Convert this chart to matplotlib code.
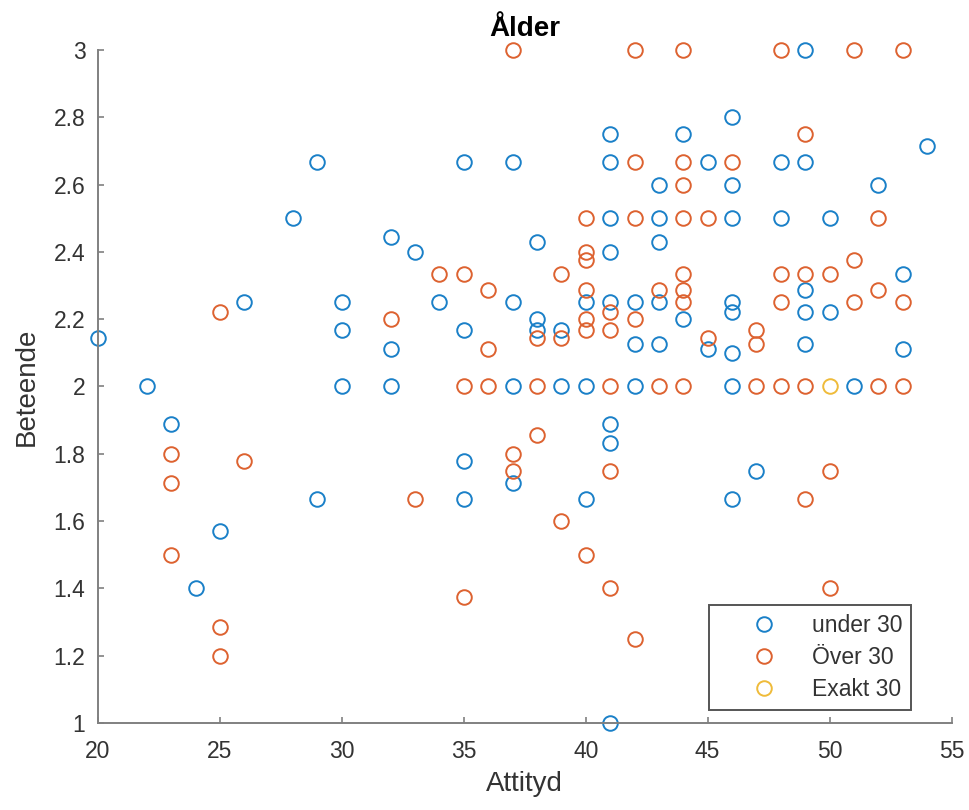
import matplotlib
matplotlib.use("Agg")
import matplotlib.pyplot as plt

plt.rcParams['font.family'] = ['Liberation Sans', 'DejaVu Sans']

# under 30
under_x = [20, 22, 23, 24, 25, 26, 28, 29, 29, 30, 30, 30, 32, 32, 32, 33, 34,
           35, 35, 35, 35, 37, 37, 37, 37, 38, 38, 38, 39, 39, 40, 40, 40,
           41, 41, 41, 41, 41, 41, 41, 41, 42, 42, 42,
           43, 43, 43, 43, 43, 44, 44, 45, 45, 46, 46, 46, 46, 46, 46, 46, 46,
           47, 48, 48, 49, 49, 49, 49, 49, 50, 50, 51, 52, 53, 53, 54]
under_y = [2.143, 2.0, 1.889, 1.4, 1.571, 2.25, 2.5, 2.667, 1.667, 2.25, 2.167, 2.0,
           2.444, 2.111, 2.0, 2.4, 2.25,
           2.667, 2.167, 1.778, 1.667, 2.667, 2.25, 2.0, 1.714, 2.429, 2.2, 2.167,
           2.167, 2.0, 2.25, 2.0, 1.667,
           2.75, 2.667, 2.5, 2.4, 2.25, 1.889, 1.833, 1.0, 2.25, 2.125, 2.0,
           2.6, 2.5, 2.429, 2.25, 2.125, 2.75, 2.2, 2.667, 2.111,
           2.8, 2.6, 2.5, 2.25, 2.222, 2.1, 2.0, 1.667,
           1.75, 2.667, 2.5, 3.0, 2.667, 2.286, 2.222, 2.125,
           2.5, 2.222, 2.0, 2.6, 2.333, 2.111, 2.714]
# over 30
over_x = [23, 23, 23, 25, 25, 25, 26, 32, 33, 34, 35, 35, 35, 36, 36, 36,
          37, 37, 37, 38, 38, 38, 39, 39, 39, 40, 40, 40, 40, 40, 40, 40,
          41, 41, 41, 41, 41, 42, 42, 42, 42, 42, 43, 43,
          44, 44, 44, 44, 44, 44, 44, 44, 45, 45, 46, 47, 47, 47,
          48, 48, 48, 48, 49, 49, 49, 49, 50, 50, 50, 51, 51, 51, 52, 52, 52,
          53, 53, 53]
over_y = [1.8, 1.714, 1.5, 2.222, 1.286, 1.2, 1.778, 2.2, 1.667, 2.333, 2.333, 2.0, 1.375,
          2.286, 2.111, 2.0,
          3.0, 1.8, 1.75, 2.143, 2.0, 1.857, 2.333, 2.143, 1.6,
          2.5, 2.4, 2.375, 2.286, 2.2, 2.167, 1.5,
          2.222, 2.167, 2.0, 1.75, 1.4, 3.0, 2.667, 2.5, 2.2, 1.25, 2.286, 2.0,
          3.0, 2.667, 2.6, 2.5, 2.333, 2.286, 2.25, 2.0, 2.5, 2.143, 2.667,
          2.167, 2.125, 2.0,
          3.0, 2.333, 2.25, 2.0, 2.75, 2.333, 2.0, 1.667, 2.333, 1.75, 1.4,
          3.0, 2.375, 2.25, 2.5, 2.286, 2.0,
          3.0, 2.25, 2.0]
# exactly 30
exact_x = [50]
exact_y = [2.0]

x_ticks = [20, 25, 30, 35, 40, 45, 50, 55]
y_ticks = [1, 1.2, 1.4, 1.6, 1.8, 2, 2.2, 2.4, 2.6, 2.8, 3]
y_ticklabels = ['1', '1.2', '1.4', '1.6', '1.8', '2', '2.2', '2.4', '2.6', '2.8', '3']

fig = plt.figure(figsize=(9.7, 8.1), dpi=100)
ax = fig.add_axes([0.101, 0.1074, 0.880, 0.8309])

ms = 10.5
lw = 1.4
ax.plot(under_x, under_y, 'o', ms=ms, mfc='none', mec='#1a80c8', mew=lw,
        linestyle='none', label='under 30', clip_on=False)
ax.plot(over_x, over_y, 'o', ms=ms, mfc='none', mec='#dd6230', mew=lw,
        linestyle='none', label='Över 30', clip_on=False)
ax.plot(exact_x, exact_y, 'o', ms=ms, mfc='none', mec='#efbb3a', mew=lw,
        linestyle='none', label='Exakt 30', clip_on=False)

ax.set_xlim(20, 55)
ax.set_ylim(1, 3)
ax.set_xticks(x_ticks)
ax.set_yticks(y_ticks)
ax.set_yticklabels(y_ticklabels)
for s in ['top', 'right']:
    ax.spines[s].set_visible(False)
for s in ['left', 'bottom']:
    ax.spines[s].set_color('#808080')
    ax.spines[s].set_linewidth(1.4)
ax.tick_params(direction='in', length=4, width=1.2, color='#808080',
               labelcolor='#333333', labelsize=16.5)
ax.tick_params(axis='x', pad=12)
ax.tick_params(axis='y', pad=9)

ax.set_xlabel('Attityd', fontsize=20, color='#333333', labelpad=6)
ax.set_ylabel('Beteende', fontsize=20, color='#333333', labelpad=10)
ax.set_title('Ålder', fontsize=20, fontweight='bold', color='black', pad=10)

leg = ax.legend(loc='lower right', bbox_to_anchor=(0.953, 0.019),
                borderaxespad=0, fancybox=False, framealpha=1,
                edgecolor='#555555', fontsize=16.5, handlelength=4,
                handletextpad=0.1, borderpad=0.4, labelspacing=0.4)
leg.get_frame().set_linewidth(1.4)
for t in leg.get_texts():
    t.set_color('#333333')

fig.savefig('out.png', dpi=100)
